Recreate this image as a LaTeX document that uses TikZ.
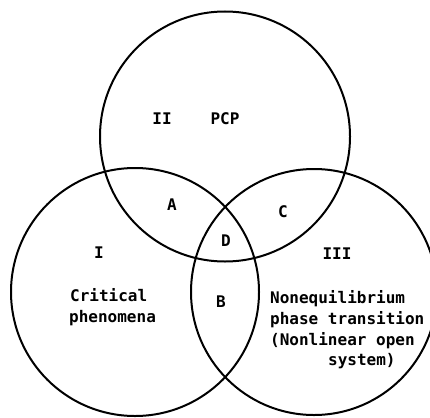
\documentclass[tikz,border=0pt]{standalone}
\usepackage{fontspec}
\setmonofont{DejaVu Sans Mono}
\begin{document}
\begin{tikzpicture}[x=1pt,y=-1pt]
\tikzset{
  ring/.style={draw=black,line width=2pt},
  lbl/.style={font=\ttfamily\bfseries\fontsize{16}{19}\selectfont,inner sep=0pt,text=black},
  txtline/.style={lbl,anchor=base west}
}
\useasboundingbox (0,0) rectangle (430,417);
\coordinate (ct) at (225,136.5);
\coordinate (cl) at (135,292);
\coordinate (cr) at (314,292);
\draw[ring] (ct) circle[radius=125pt];
\draw[ring] (cl) circle[radius=124pt];
\draw[ring] (cr) circle[radius=123pt];
\node[lbl] (II) at (162,119) {II};
\node[lbl] (PCP) at (225,119) {PCP};
\node[lbl] (A) at (172,205) {A};
\node[lbl] (C) at (283,212) {C};
\node[lbl] (D) at (226,241) {D};
\node[lbl] (I) at (99,253) {I};
\node[lbl] (III) at (337,254) {III};
\node[lbl] (B) at (221,302) {B};
\node[txtline] (crit) at (70,301) {Critical};
\node[txtline] (phen) at (69,322) {phenomena};
\node[txtline] (noneq) at (270,303) {Nonequilibrium};
\node[txtline] (phase) at (270,324) {phase transition};
\node[txtline] (nonlin) at (270,345) {(Nonlinear open};
\node[txtline] (sys) at (328,365) {system)};
\end{tikzpicture}
\end{document}
